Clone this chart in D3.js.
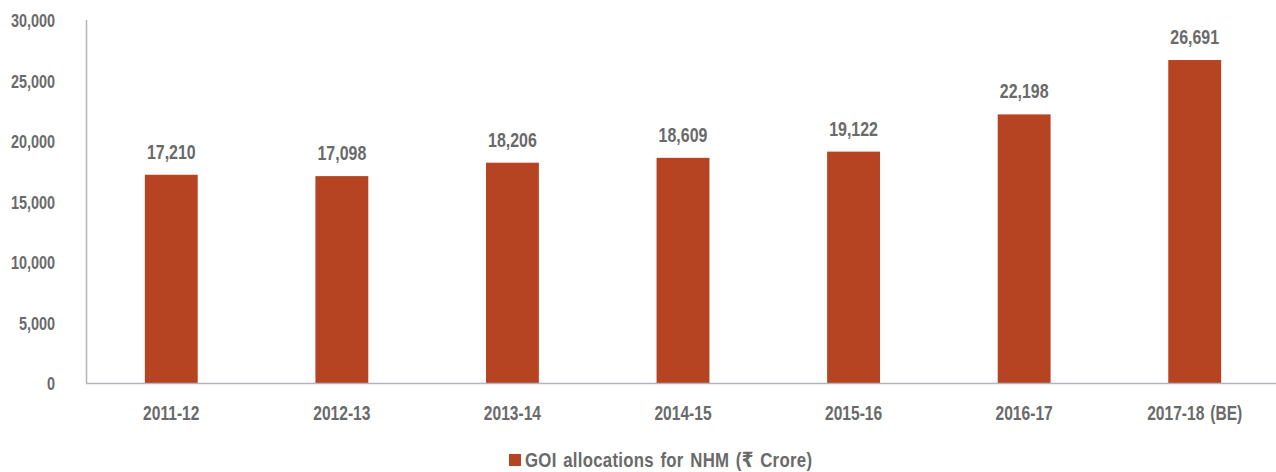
<!DOCTYPE html>
<html><head><meta charset="utf-8">
<script src="https://cdn.jsdelivr.net/npm/d3@7"></script>
<style>
body{margin:0;background:#fff;}
text{font-family:"Liberation Sans","DejaVu Sans",sans-serif;font-weight:bold;fill:#6a6a6a;}
</style></head><body>
<svg id="c" width="1276" height="472"></svg>
<script>
const categories = ["2011-12","2012-13","2013-14","2014-15","2015-16","2016-17","2017-18 (BE)"];
const values = [17210,17098,18206,18609,19122,22198,26691];
const yTicks = [0,5000,10000,15000,20000,25000,30000];
const seriesName = "GOI allocations for NHM (\u20B9 Crore)";

const svg = d3.select("#c");
const x = d3.scaleBand().domain(categories).range([86,1280]).paddingInner(0.69).paddingOuter(0.345);
const y = d3.scaleLinear().domain([0,30000]).range([383,20]);
const fmt = d3.format(",");
const color = "#B64321";
const SX = 0.76;

// y tick labels
svg.append("g").selectAll("text").data(yTicks).join("text")
  .attr("transform",d=>`translate(55,${y(d)+7}) scale(0.78,1)`)
  .attr("text-anchor","end").style("font-size","18.5px").text(d=>fmt(d));

// bars
svg.append("g").selectAll("rect").data(values).join("rect")
  .attr("x",(d,i)=>x(categories[i])).attr("width",x.bandwidth())
  .attr("y",d=>y(d)).attr("height",d=>y(0)-y(d)).attr("fill",color);

// value labels
svg.append("g").selectAll("text").data(values).join("text")
  .attr("transform",(d,i)=>`translate(${x(categories[i])+x.bandwidth()/2},${y(d)-16}) scale(${SX},1)`)
  .attr("text-anchor","middle").style("font-size","21px").text(d=>fmt(d));

// axes lines
svg.append("line").attr("x1",86.5).attr("x2",86.5).attr("y1",y(30000)).attr("y2",y(0))
  .attr("stroke","#b4b4bb").attr("stroke-width",1.5);
svg.append("line").attr("x1",86).attr("x2",1276).attr("y1",y(0)+0.5).attr("y2",y(0)+0.5)
  .attr("stroke","#b4b4bb").attr("stroke-width",1.5);

// x labels
svg.append("g").selectAll("text").data(categories).join("text")
  .attr("transform",d=>`translate(${x(d)+x.bandwidth()/2},420) scale(0.78,1)`)
  .attr("text-anchor","middle").style("font-size","20px").style("word-spacing","2px").text(d=>d);

// legend
const lg = svg.append("g");
lg.append("rect").attr("x",509).attr("y",454).attr("width",12).attr("height",12).attr("fill",color);
lg.append("text").attr("transform",`translate(525,467) scale(0.8,1)`).style("font-size","21px")
  .style("letter-spacing","0.35px").style("word-spacing","2px").text(seriesName);
</script></body></html>
